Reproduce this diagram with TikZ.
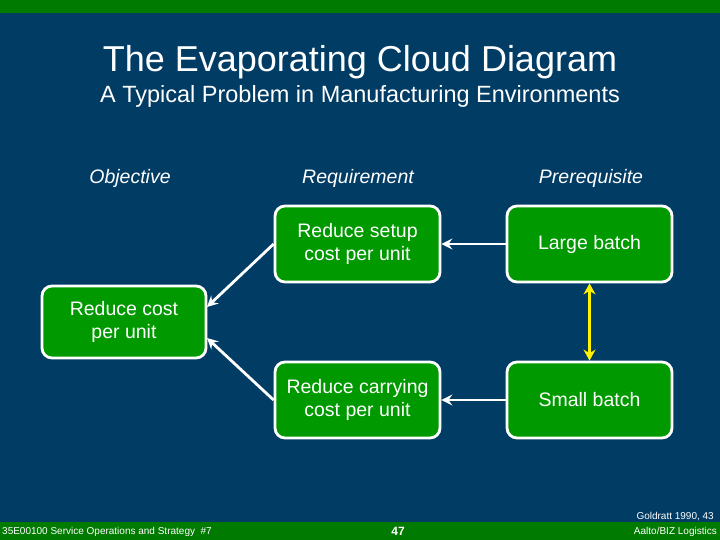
\documentclass[tikz,border=0pt]{standalone}
\usepackage{fontspec}
\setmainfont{Liberation Sans}
\usetikzlibrary{arrows.meta}
\definecolor{bgblue}{HTML}{003C64}
\definecolor{bandgreen}{HTML}{007A00}
\definecolor{boxgreen}{HTML}{009900}
\begin{document}
\begin{tikzpicture}[x=1pt,y=-1pt,
  cbox/.style={draw=white,line width=2.8pt,fill=boxgreen,rounded corners=10pt,text=white,font=\fontsize{19.5}{23}\selectfont,align=center,inner sep=0pt},
  head/.style={text=white,font=\fontsize{19.5}{23}\selectfont\itshape},
  conn/.style={draw=white,line width=2.8pt,-{Stealth[length=11pt,width=11pt,inset=4pt]}},
  foot/.style={text=white,font=\fontsize{10}{12}\selectfont,inner sep=0pt}]
\useasboundingbox (0,0) rectangle (720,540);
\fill[bgblue] (0,0) rectangle (720,540);
\fill[bandgreen] (0,0) rectangle (720,13);
\fill[bandgreen] (0,522) rectangle (720,540);
\node[text=white,font=\fontsize{36}{40}\selectfont] (title) at (360,62) {The Evaporating Cloud Diagram};
\node[text=white,font=\fontsize{23.5}{27}\selectfont] (sub) at (360,96) {A Typical Problem in Manufacturing Environments};
\node[head] (h1) at (130,178) {Objective};
\node[head] (h2) at (358,178) {Requirement};
\node[head] (h3) at (591,178) {Prerequisite};
\node[cbox,minimum width=164pt,minimum height=72pt] (obj) at (124,322) {Reduce cost\\per unit};
\node[cbox,minimum width=165pt,minimum height=76pt] (r1) at (357.5,244) {Reduce setup\\cost per unit};
\node[cbox,minimum width=165pt,minimum height=76pt] (r2) at (357.5,400) {Reduce carrying\\cost per unit};
\node[cbox,minimum width=165pt,minimum height=76pt] (p1) at (589.5,244) {Large batch};
\node[cbox,minimum width=165pt,minimum height=76pt] (p2) at (589.5,400) {Small batch};
\coordinate (o1) at (207,307);
\coordinate (o2) at (207,338);
\draw[conn] (r1.west) -- (o1);
\draw[conn] (r2.west) -- (o2);
\draw[conn] (p1.west) -- (r1.east);
\draw[conn] (p2.west) -- (r2.east);
\draw[draw=yellow,line width=3pt,{Stealth[length=11pt,width=12pt]}-{Stealth[length=11pt,width=12pt]}] (p1.south) -- (p2.north);
\node[foot,anchor=west] (f1) at (2,531.5) {35E00100 Service Operations and Strategy \ \#7};
\node[foot,font=\fontsize{12}{13}\selectfont\bfseries\rmfamily] (f2) at (398,531.5) {47};
\node[foot,anchor=east] (f3) at (717,531.5) {Aalto/BIZ Logistics};
\node[foot,anchor=east] (f4) at (714,516.5) {Goldratt 1990, 43};
\end{tikzpicture}
\end{document}
